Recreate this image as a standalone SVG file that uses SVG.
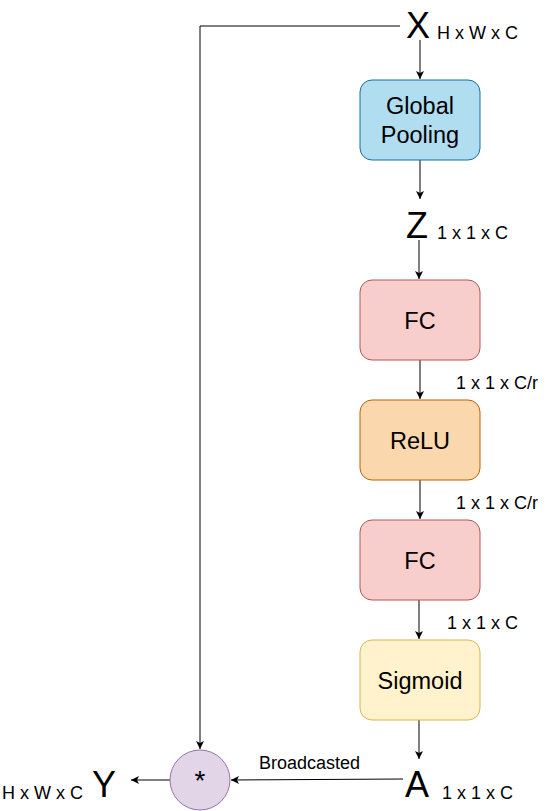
<svg xmlns="http://www.w3.org/2000/svg" width="555" height="811" viewBox="0 0 555 811">
<style>
text{font-family:"Liberation Sans",Arial,sans-serif;fill:#000}
.big{font-size:36px}
.dim{font-size:18px}
.lbl{font-size:23.5px;text-anchor:middle}
.e{stroke:#000;stroke-width:1;fill:none;marker-end:url(#ah)}
</style>
<defs>
<marker id="ah" markerWidth="10" markerHeight="10" refX="8" refY="4" orient="auto" markerUnits="userSpaceOnUse">
<path d="M0,0 L8,4 L0,8 L2,4 Z" fill="#000"/>
</marker>
</defs>
<rect width="555" height="811" fill="#fff"/>
<g id="connectors">
<path class="e" d="M400,26 L200,26 L200,749"/>
<path class="e" d="M420,40 L420,79"/>
<path class="e" d="M420,160 L420,199"/>
<path class="e" d="M419,240 L419,279"/>
<path class="e" d="M420,360 L420,399"/>
<path class="e" d="M420,480 L420,519"/>
<path class="e" d="M419,600 L419,639"/>
<path class="e" d="M419,720 L419,759"/>
<path class="e" d="M403,779 L231,780"/>
<path class="e" d="M170,780 L131,780"/>
</g>
<g id="X"><text class="big" x="406" y="38">X</text><text class="dim" x="437" y="39">H x W x C</text></g>
<g id="pool"><rect x="360" y="80" width="120" height="80" rx="12" fill="#b1ddf0" stroke="#10739e"/><text class="lbl" x="420" y="114">Global</text><text class="lbl" x="420" y="143">Pooling</text></g>
<g id="Z"><text class="big" x="406" y="238">Z</text><text class="dim" x="437" y="239">1 x 1 x C</text></g>
<g id="fc1"><rect x="360" y="280" width="120" height="80" rx="12" fill="#f8cecc" stroke="#b85450"/><text class="lbl" x="420" y="329">FC</text></g>
<g id="d1"><text class="dim" x="456" y="389">1 x 1 x C/r</text></g>
<g id="relu"><rect x="360" y="400" width="120" height="80" rx="12" fill="#fad7ac" stroke="#b46504"/><text class="lbl" x="420" y="449">ReLU</text></g>
<g id="d2"><text class="dim" x="456" y="509">1 x 1 x C/r</text></g>
<g id="fc2"><rect x="360" y="520" width="120" height="80" rx="12" fill="#f8cecc" stroke="#b85450"/><text class="lbl" x="420" y="569">FC</text></g>
<g id="d3"><text class="dim" x="447" y="629">1 x 1 x C</text></g>
<g id="sig"><rect x="360" y="640" width="120" height="80" rx="12" fill="#fff2cc" stroke="#d6b656"/><text class="lbl" x="420" y="689">Sigmoid</text></g>
<g id="A"><text class="big" x="405" y="797">A</text><text class="dim" x="442" y="799">1 x 1 x C</text></g>
<g id="mul"><circle cx="200" cy="780" r="30" fill="#e1d5e7" stroke="#9673a6"/><text x="200" y="790" font-size="28" text-anchor="middle">*</text></g>
<g id="bc"><text class="dim" x="259" y="769">Broadcasted</text></g>
<g id="Y"><text class="big" x="92" y="797">Y</text><text class="dim" x="2" y="799">H x W x C</text></g>
</svg>
